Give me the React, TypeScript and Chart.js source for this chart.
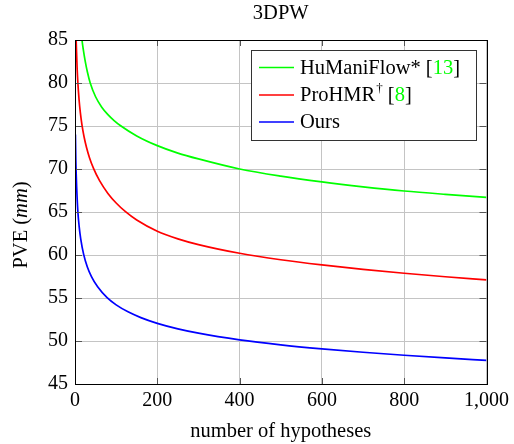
import React, { useEffect, useRef } from "react";
import { Chart, registerables } from "chart.js";
Chart.register(...registerables);

const titleText = "3DPW";
const xTitle = "number of hypotheses";
const yTitleMain = "PVE (";
const yTitleItalic = "mm";
const yTitleEnd = ")";

const greenN = [14, 17, 20, 25, 30, 37, 50, 65, 80, 95, 110, 150, 200, 250, 300, 400, 500, 600, 700, 800, 900, 1000];
const greenV = [86.5, 85.0, 83.93, 82.48, 81.31, 80.0, 78.4, 77.19, 76.32, 75.63, 75.06, 73.85, 72.72, 71.85, 71.17, 70.0, 69.17, 68.5, 67.93, 67.44, 67.05, 66.7];

const redN = [2, 3, 5, 7, 10, 13, 17, 22, 28, 35, 45, 60, 80, 100, 122, 150, 200, 250, 300, 400, 500, 600, 700, 800, 900, 1000];
const redV = [86.0, 84.7, 81.9, 80.0, 78.0, 76.55, 75.1, 73.75, 72.5, 71.35, 70.07, 68.61, 67.16, 66.05, 65.07, 64.07, 62.77, 61.88, 61.21, 60.2, 59.45, 58.85, 58.33, 57.88, 57.47, 57.1];

const blueN = [1, 2, 3, 4, 5, 7, 10, 14, 21, 30, 40, 55, 78, 100, 130, 160, 200, 250, 300, 400, 500, 600, 700, 800, 900, 1000];
const blueV = [74.0, 71.0, 69.3, 67.9, 66.8, 65.0, 63.36, 61.85, 60.07, 58.61, 57.49, 56.3, 55.04, 54.2, 53.36, 52.72, 52.05, 51.41, 50.91, 50.14, 49.56, 49.09, 48.69, 48.34, 48.03, 47.75];

const seriesNames = ["HuManiFlow* ", "ProHMR", "Ours"];
const seriesRefs = ["13", "8", ""];
const seriesColors = ["#00ff00", "#ff0000", "#0000ff"];

const FONT = "'Liberation Serif', 'DejaVu Serif', serif";
const TXT = 20.5;

const toPts = (n: number[], v: number[]) => n.map((x, i) => ({ x, y: v[i] }));

const decorPlugin = {
  id: "decor",
  afterDraw(chart: any) {
    const { ctx, chartArea } = chart;
    const { left, right, top, bottom } = chartArea;
    ctx.save();
    ctx.strokeStyle = "#555";
    ctx.lineWidth = 1;
    const xs = chart.scales.x;
    const ys = chart.scales.y;
    ctx.beginPath();
    xs.ticks.forEach((t: any) => {
      const px = Math.round(xs.getPixelForValue(t.value)) + 0.5;
      ctx.moveTo(px, bottom);
      ctx.lineTo(px, bottom - 6);
      ctx.moveTo(px, top);
      ctx.lineTo(px, top + 6);
    });
    ys.ticks.forEach((t: any) => {
      const py = Math.round(ys.getPixelForValue(t.value)) + 0.5;
      ctx.moveTo(left, py);
      ctx.lineTo(left + 7, py);
      ctx.moveTo(right, py);
      ctx.lineTo(right - 7, py);
    });
    ctx.stroke();
    ctx.strokeStyle = "#000";
    ctx.lineWidth = 1;
    ctx.strokeRect(Math.round(left) + 0.5, Math.round(top) + 0.5, Math.round(right - left), Math.round(bottom - top));

    ctx.fillStyle = "#000";
    ctx.textAlign = "center";
    ctx.textBaseline = "middle";
    ctx.font = `${TXT}px ${FONT}`;
    ctx.fillText(titleText, (left + right) / 2, 14);
    ctx.fillText(xTitle, (left + right) / 2, 432);

    ctx.save();
    ctx.translate(22, 225);
    ctx.rotate(-Math.PI / 2);
    ctx.textAlign = "left";
    ctx.font = `${TXT}px ${FONT}`;
    const w1 = ctx.measureText(yTitleMain).width;
    ctx.font = `italic ${TXT}px ${FONT}`;
    const w2 = ctx.measureText(yTitleItalic).width;
    ctx.font = `${TXT}px ${FONT}`;
    const w3 = ctx.measureText(yTitleEnd).width;
    let sx = -(w1 + w2 + w3) / 2;
    ctx.fillText(yTitleMain, sx, 0);
    sx += w1;
    ctx.font = `italic ${TXT}px ${FONT}`;
    ctx.fillText(yTitleItalic, sx, 0);
    sx += w2;
    ctx.font = `${TXT}px ${FONT}`;
    ctx.fillText(yTitleEnd, sx, 0);
    ctx.restore();

    const bx = 251.5, by = 50.5, bw = 225, bh = 90;
    ctx.fillStyle = "#fff";
    ctx.fillRect(bx, by, bw, bh);
    ctx.strokeStyle = "#333";
    ctx.strokeRect(bx, by, bw, bh);
    const rowY = [67.5, 95, 122];
    ctx.textAlign = "left";
    ctx.textBaseline = "middle";
    for (let i = 0; i < 3; i++) {
      ctx.strokeStyle = seriesColors[i];
      ctx.lineWidth = 1.6;
      ctx.beginPath();
      ctx.moveTo(259, rowY[i]);
      ctx.lineTo(294, rowY[i]);
      ctx.stroke();
      ctx.font = `${TXT}px ${FONT}`;
      ctx.fillStyle = "#000";
      let tx = 300;
      ctx.fillText(seriesNames[i], tx, rowY[i] + 1);
      tx += ctx.measureText(seriesNames[i]).width;
      if (i === 1) {
        ctx.font = `13px ${FONT}`;
        ctx.fillText("\u2020", tx + 1, rowY[i] - 6);
        tx += ctx.measureText("\u2020").width + 1;
        ctx.font = `${TXT}px ${FONT}`;
        ctx.fillText(" ", tx, rowY[i] + 1);
        tx += ctx.measureText(" ").width;
      }
      if (seriesRefs[i]) {
        ctx.fillText("[", tx, rowY[i] + 1);
        tx += ctx.measureText("[").width;
        ctx.fillStyle = "#00ff00";
        ctx.fillText(seriesRefs[i], tx, rowY[i] + 1);
        tx += ctx.measureText(seriesRefs[i]).width;
        ctx.fillStyle = "#000";
        ctx.fillText("]", tx, rowY[i] + 1);
      }
    }
    ctx.restore();
  },
};

export default function App() {
  const ref = useRef<HTMLCanvasElement | null>(null);
  useEffect(() => {
    document.body.style.margin = "0";
    const canvas = ref.current!;
    const mk = (label: string, n: number[], v: number[], color: string) => ({
      label,
      data: toPts(n, v),
      borderColor: color,
      backgroundColor: color,
      borderWidth: 1.7,
      pointRadius: 0,
      cubicInterpolationMode: "monotone" as const,
      fill: false,
    });
    const chart = new Chart(canvas, {
      type: "line",
      data: {
        datasets: [
          mk("HuManiFlow*", greenN, greenV, seriesColors[0]),
          mk("ProHMR", redN, redV, seriesColors[1]),
          mk("Ours", blueN, blueV, seriesColors[2]),
        ],
      },
      options: {
        animation: false,
        responsive: false,
        devicePixelRatio: 1,
        layout: { padding: { left: 0, right: 25, top: 40, bottom: 0 } },
        plugins: { legend: { display: false }, title: { display: false }, tooltip: { enabled: false } },
        scales: {
          x: {
            type: "linear",
            min: 0,
            max: 1000,
            ticks: {
              stepSize: 200,
              padding: 5,
              color: "#000",
              font: { family: FONT, size: 20 },
              callback: (v: any) => Number(v).toLocaleString("en-US"),
              maxRotation: 0,
            },
            grid: { color: "#c4c4c4", lineWidth: 1, drawTicks: false },
            border: { display: false },
            afterFit: (s: any) => {
              s.height = 60;
            },
          },
          y: {
            type: "linear",
            min: 45,
            max: 85,
            ticks: {
              stepSize: 5,
              padding: 7,
              color: "#000",
              font: { family: FONT, size: 20 },
            },
            grid: { color: "#c4c4c4", lineWidth: 1, drawTicks: false },
            border: { display: false },
            afterFit: (s: any) => {
              s.width = 75;
            },
          },
        },
      },
      plugins: [decorPlugin],
    });
    return () => chart.destroy();
  }, []);
  return <canvas ref={ref} width={514} height={444} style={{ display: "block" }} />;
}
